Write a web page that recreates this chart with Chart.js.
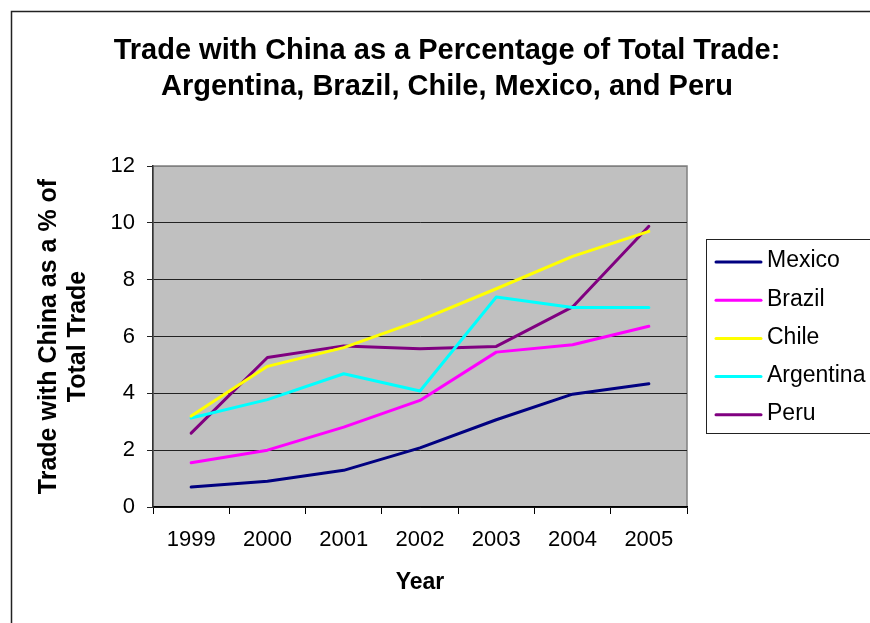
<!DOCTYPE html>
<html>
<head>
<meta charset="utf-8">
<script src="https://cdn.jsdelivr.net/npm/chart.js@4.4.0/dist/chart.umd.min.js"></script>
<style>
  html, body { margin: 0; padding: 0; background: #fff; }
  #wrap { width: 870px; height: 623px; position: relative; }
</style>
</head>
<body>
<div id="wrap"><canvas id="tradeChart" width="870" height="623"></canvas></div>
<script>
let years = ['1999', '2000', '2001', '2002', '2003', '2004', '2005'];
let mexico = [0.70, 0.91, 1.29, 2.08, 3.07, 3.97, 4.34];
let brazil = [1.56, 2.00, 2.81, 3.75, 5.45, 5.71, 6.36];
let chile = [3.20, 4.95, 5.61, 6.57, 7.68, 8.82, 9.70];
let argentina = [3.13, 3.78, 4.69, 4.08, 7.39, 7.02, 7.02];
let peru = [2.60, 5.26, 5.67, 5.57, 5.65, 7.04, 9.88];

let titleLines = ['Trade with China as a Percentage of Total Trade:', 'Argentina, Brazil, Chile, Mexico, and Peru'];
let yTitle = ['Trade with China as a % of', 'Total Trade'];
let xTitle = 'Year';

const FONT = "'Liberation Sans', Arial, sans-serif";

function series(label, data, color) {
    return {
        label: label,
        data: data,
        borderColor: color,
        backgroundColor: color,
        borderWidth: 3,
        tension: 0,
        fill: false,
        pointRadius: 0,
        pointHoverRadius: 0,
        borderCapStyle: 'round',
        borderJoinStyle: 'round'
    };
}

// frame, grey plot background, title and boxed legend
let decorations = {
    id: 'decorations',
    beforeDraw(chart) {
        let ctx = chart.ctx;
        let a = chart.chartArea;
        ctx.save();
        ctx.fillStyle = '#ffffff';
        ctx.fillRect(0, 0, chart.width, chart.height);

        ctx.strokeStyle = '#222';
        ctx.lineWidth = 1.5;
        ctx.beginPath();
        ctx.moveTo(11.5, chart.height + 2);
        ctx.lineTo(11.5, 11.5);
        ctx.lineTo(chart.width + 2, 11.5);
        ctx.stroke();

        ctx.fillStyle = '#c0c0c0';
        ctx.fillRect(a.left, a.top, a.right - a.left, a.bottom - a.top);
        ctx.strokeStyle = '#808080';
        ctx.lineWidth = 1.5;
        ctx.strokeRect(a.left, a.top, a.right - a.left, a.bottom - a.top);

        ctx.fillStyle = '#000';
        ctx.font = 'bold 29px ' + FONT;
        ctx.textAlign = 'center';
        ctx.textBaseline = 'middle';
        ctx.fillText(titleLines[0], 447, 51);
        ctx.fillText(titleLines[1], 447, 87);
        ctx.restore();
    },
    afterDraw(chart) {
        let ctx = chart.ctx;
        ctx.save();
        ctx.strokeStyle = '#222';
        ctx.lineWidth = 1;
        ctx.strokeRect(706.5, 239.5, 180, 194);
        ctx.font = '23px ' + FONT;
        ctx.textAlign = 'left';
        ctx.textBaseline = 'middle';
        chart.data.datasets.forEach((ds, i) => {
            let y = 262 + i * 38.2;
            ctx.strokeStyle = ds.borderColor;
            ctx.lineWidth = 3;
            ctx.lineCap = 'round';
            ctx.beginPath();
            ctx.moveTo(716, y);
            ctx.lineTo(761, y);
            ctx.stroke();
            ctx.fillStyle = '#000';
            ctx.fillText(ds.label, 767, y - 1);
        });
        ctx.restore();
    }
};

new Chart(document.getElementById('tradeChart'), {
    type: 'line',
    data: {
        labels: years,
        datasets: [
            series('Mexico', mexico, '#000080'),
            series('Brazil', brazil, '#ff00ff'),
            series('Chile', chile, '#ffff00'),
            series('Argentina', argentina, '#00ffff'),
            series('Peru', peru, '#800080')
        ]
    },
    options: {
        responsive: false,
        animation: false,
        events: [],
        layout: { padding: { top: 166, left: 12, right: 183, bottom: 10 } },
        plugins: {
            legend: { display: false },
            title: { display: false },
            tooltip: { enabled: false }
        },
        scales: {
            x: {
                offset: true,
                afterFit: scale => { scale.height = 106; },
                grid: { offset: true, drawOnChartArea: false, drawTicks: true, tickLength: 7, color: '#000' },
                border: { color: '#000', width: 1.5 },
                ticks: { color: '#000', padding: 13, font: { family: FONT, size: 22 } },
                title: {
                    display: true,
                    text: xTitle,
                    color: '#000',
                    font: { family: FONT, size: 23, weight: 'bold' },
                    padding: { top: 0, bottom: 17 }
                }
            },
            y: {
                min: 0,
                max: 12,
                afterFit: scale => { scale.width = 141; },
                grid: {
                    color: ctx => ctx.tick && ctx.tick.value === 12 ? '#808080' : '#222',
                    tickColor: '#222',
                    tickLength: 6,
                    lineWidth: 1
                },
                border: { color: '#333', width: 1.5 },
                ticks: { stepSize: 2, color: '#000', padding: 12, font: { family: FONT, size: 22 } },
                title: {
                    display: true,
                    text: yTitle,
                    color: '#000',
                    font: { family: FONT, size: 25, weight: 'bold', lineHeight: 1.14 },
                    padding: { top: 23, bottom: 0 }
                }
            }
        }
    },
    plugins: [decorations]
});
</script>
</body>
</html>
